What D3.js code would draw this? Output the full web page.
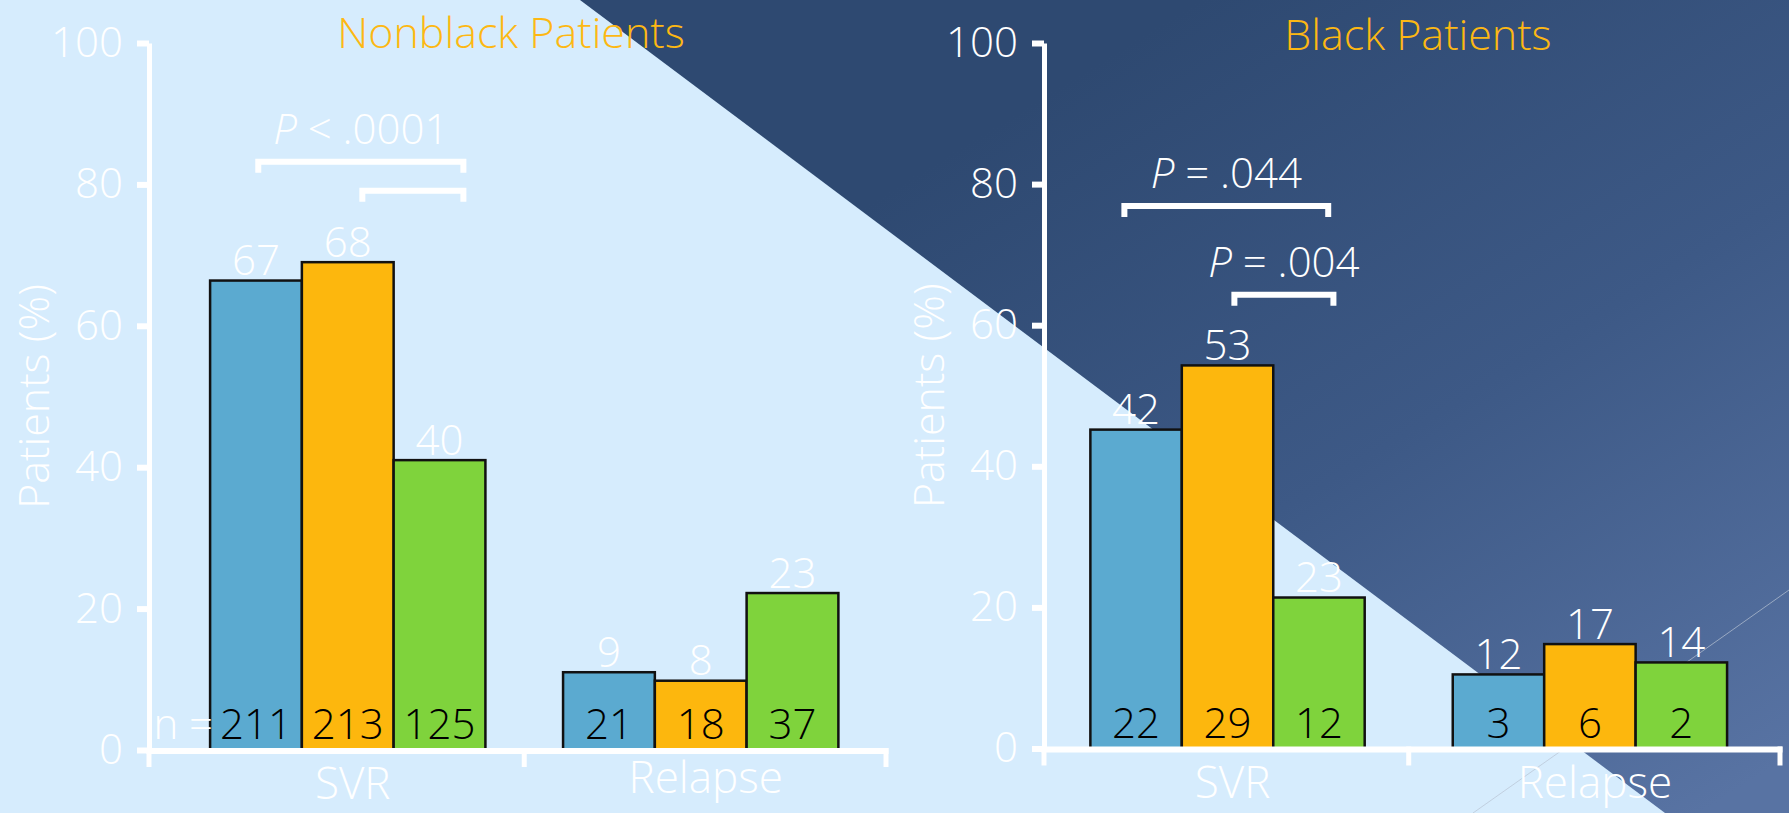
<!DOCTYPE html>
<html>
<head>
<meta charset="utf-8">
<script src="https://cdn.jsdelivr.net/npm/d3@7"></script>
<style>
  html, body { margin: 0; padding: 0; background: #D6ECFD; }
  svg { display: block; }
</style>
</head>
<body>
<script>
// ---------------- data ----------------
const categories = ["SVR", "Relapse"];
const seriesIdx = [0, 1, 2];
const yTickValues = [0, 20, 40, 60, 80, 100];

// bar heights as drawn (percent)
const nonblackSVR = [66.4, 69.0, 41.0];
const nonblackRelapse = [11.0, 9.8, 22.2];
const nonblackSVRLabels = ["67", "68", "40"];
const nonblackRelapseLabels = ["9", "8", "23"];
const nonblackSVRn = ["211", "213", "125"];
const nonblackRelapseN = ["21", "18", "37"];

const blackSVR = [45.2, 54.3, 21.4];
const blackRelapse = [10.5, 14.8, 12.2];
const blackSVRLabels = ["42", "53", "23"];
const blackRelapseLabels = ["12", "17", "14"];
const blackSVRn = ["22", "29", "12"];
const blackRelapseN = ["3", "6", "2"];

// significance brackets: span as fraction of the SVR bar group, height in %
const nonblackBrackets = [
  { from: 0.175, to: 0.92, level: 83.2, text: "< .0001" },
  { from: 0.553, to: 0.92, level: 79.1, text: "" }
];
const blackBrackets = [
  { from: 0.124, to: 0.867, level: 76.9, text: "= .044" },
  { from: 0.525, to: 0.886, level: 64.3, text: "= .004" }
];

// ---------------- style / layout ----------------
const W = 1789, H = 813;
const FONT = "'Century Gothic','Open Sans','DejaVu Sans',sans-serif";
const seriesColors = ["#5BAAD0", "#FDB70D", "#7FD33C"];
const titleColor = "#FDB813";

const panels = [
  {
    title: "Nonblack Patients", titleX: 511, titleY: 48,
    values: [nonblackSVR, nonblackRelapse],
    labels: [nonblackSVRLabels, nonblackRelapseLabels],
    ns: [nonblackSVRn, nonblackRelapseN],
    brackets: nonblackBrackets,
    xRange: [149, 886], yRange: [750, 43],
    pi: 0.22, po: 0.154, align: 0.562,
    catDy: [0, -6], showN: true
  },
  {
    title: "Black Patients", titleX: 1418, titleY: 50,
    values: [blackSVR, blackRelapse],
    labels: [blackSVRLabels, blackRelapseLabels],
    ns: [blackSVRn, blackRelapseN],
    brackets: blackBrackets,
    xRange: [1044, 1780], yRange: [748.5, 43],
    pi: 0.243, po: 0.137, align: 0.467,
    catDy: [0, 0], showN: false
  }
];

// ---------------- drawing ----------------
const svg = d3.select("body").append("svg")
  .attr("width", W).attr("height", H)
  .style("font-family", FONT);

const defs = svg.append("defs");
const grad = defs.append("linearGradient")
  .attr("id", "darkGrad")
  .attr("gradientUnits", "userSpaceOnUse")
  .attr("x1", 1200).attr("y1", 0).attr("x2", 1700).attr("y2", 813);
grad.append("stop").attr("offset", 0).attr("stop-color", "#2E4971");
grad.append("stop").attr("offset", 0.5).attr("stop-color", "#3D5986");
grad.append("stop").attr("offset", 1).attr("stop-color", "#5873A3");

svg.append("rect").attr("width", W).attr("height", H).attr("fill", "#D6ECFD");
svg.append("polygon")
  .attr("points", "580,0 1789,0 1789,813 1665,813")
  .attr("fill", "url(#darkGrad)");
svg.append("line")
  .attr("x1", 1473).attr("y1", 813).attr("x2", 1789).attr("y2", 590)
  .attr("stroke", "#B8C3D3").attr("stroke-opacity", 0.7).attr("stroke-width", 1);

panels.forEach(p => {
  const g = svg.append("g");
  const y = d3.scaleLinear([0, 100], p.yRange);
  const x0 = d3.scaleBand(categories, p.xRange)
    .paddingInner(p.pi).paddingOuter(p.po).align(p.align);
  const x1 = d3.scaleBand(seriesIdx, [0, x0.bandwidth()]);
  const y0 = y(0);

  const groups = categories.map((c, ci) => ({
    cat: c, ci,
    items: seriesIdx.map(i => ({
      i, v: p.values[ci][i], label: p.labels[ci][i], n: p.ns[ci][i]
    }))
  }));

  // title
  g.append("text")
    .attr("x", p.titleX).attr("y", p.titleY)
    .attr("text-anchor", "middle")
    .attr("fill", titleColor)
    .attr("font-size", 43)
    .attr("font-weight", 300)
    .text(p.title);

  // y-axis title
  g.append("text")
    .attr("transform", `translate(${p.xRange[0] - 100},${(p.yRange[0] + p.yRange[1]) / 2}) rotate(-90)`)
    .attr("text-anchor", "middle")
    .attr("fill", "#FFFFFF")
    .attr("font-size", 43)
    .attr("font-weight", 300)
    .text("Patients (%)");

  // bars
  const gg = g.selectAll("g.grp").data(groups).join("g")
    .attr("class", "grp")
    .attr("transform", d => `translate(${x0(d.cat)},0)`);

  gg.selectAll("rect").data(d => d.items).join("rect")
    .attr("x", d => x1(d.i))
    .attr("y", d => y(d.v))
    .attr("width", x1.bandwidth())
    .attr("height", d => y0 - y(d.v))
    .attr("fill", d => seriesColors[d.i])
    .attr("stroke", "#111")
    .attr("stroke-width", 2.5);

  // value labels above bars
  gg.selectAll("text.val").data(d => d.items).join("text")
    .attr("class", "val")
    .attr("x", d => x1(d.i) + x1.bandwidth() / 2)
    .attr("y", d => y(d.v) - 5.5)
    .attr("text-anchor", "middle")
    .attr("fill", "#FFFFFF")
    .attr("font-size", 42)
    .attr("font-weight", 300)
    .text(d => d.label);

  // n labels inside bars
  gg.selectAll("text.n").data(d => d.items).join("text")
    .attr("class", "n")
    .attr("x", d => x1(d.i) + x1.bandwidth() / 2)
    .attr("y", y0 - 11)
    .attr("text-anchor", "middle")
    .attr("fill", "#000000")
    .attr("font-size", 42)
    .attr("font-weight", 300)
    .text(d => d.n);

  if (p.showN) {
    g.append("text")
      .attr("x", x0(categories[0]) + 3)
      .attr("y", y0 - 11)
      .attr("text-anchor", "end")
      .attr("fill", "#FFFFFF")
      .attr("font-size", 42)
      .attr("font-weight", 300)
      .text("n =");
  }

  // y axis
  const yAxis = d3.axisLeft(y).tickValues(yTickValues).tickSize(12).tickSizeOuter(0).tickPadding(14);
  const ya = g.append("g").attr("transform", `translate(${p.xRange[0]},0)`).call(yAxis);
  ya.select(".domain").attr("stroke", "#FFFFFF").attr("stroke-width", 5);
  ya.selectAll(".tick line").attr("stroke", "#FFFFFF").attr("stroke-width", 6);
  ya.selectAll(".tick text")
    .attr("fill", "#FFFFFF")
    .attr("font-size", 42)
    .attr("font-weight", 300)
    .attr("font-family", FONT);

  // x axis (line + boundary ticks)
  const mid = (x0(categories[0]) + x0.bandwidth() + x0(categories[1])) / 2;
  const xTicks = [p.xRange[0], mid, p.xRange[1]];
  g.append("line")
    .attr("x1", p.xRange[0] - 2.5).attr("x2", p.xRange[1] + 2.5)
    .attr("y1", y0 + 1).attr("y2", y0 + 1)
    .attr("stroke", "#FFFFFF").attr("stroke-width", 6);
  g.selectAll("line.xt").data(xTicks).join("line")
    .attr("class", "xt")
    .attr("x1", d => d).attr("x2", d => d)
    .attr("y1", y0 - 2).attr("y2", y0 + 17)
    .attr("stroke", "#FFFFFF").attr("stroke-width", 5);

  // category labels
  g.selectAll("text.cat").data(categories).join("text")
    .attr("class", "cat")
    .attr("x", d => x0(d) + x0.bandwidth() / 2 + 5)
    .attr("y", (d, i) => y0 + 49 + p.catDy[i])
    .attr("text-anchor", "middle")
    .attr("fill", "#FFFFFF")
    .attr("font-size", 44)
    .attr("font-weight", 300)
    .text(d => d);

  // brackets
  const bx = d3.scaleLinear([0, 1], [x0(categories[0]), x0(categories[0]) + x0.bandwidth()]);
  const legLen = 11;
  g.selectAll("path.br").data(p.brackets).join("path")
    .attr("class", "br")
    .attr("d", d => {
      const a = bx(d.from), b = bx(d.to), yy = y(d.level);
      return `M${a},${yy + legLen}V${yy}H${b}V${yy + legLen}`;
    })
    .attr("fill", "none")
    .attr("stroke", "#FFFFFF")
    .attr("stroke-width", 6)
    .attr("stroke-linejoin", "miter");

  const pt = g.selectAll("text.pv").data(p.brackets.filter(d => d.text)).join("text")
    .attr("class", "pv")
    .attr("x", d => (bx(d.from) + bx(d.to)) / 2)
    .attr("y", d => y(d.level) - 18)
    .attr("text-anchor", "middle")
    .attr("fill", "#FFFFFF")
    .attr("font-size", 42)
    .attr("font-weight", 300);
  pt.append("tspan").attr("font-style", "italic").text("P");
  pt.append("tspan").text(d => " " + d.text);
});
</script>
</body>
</html>
